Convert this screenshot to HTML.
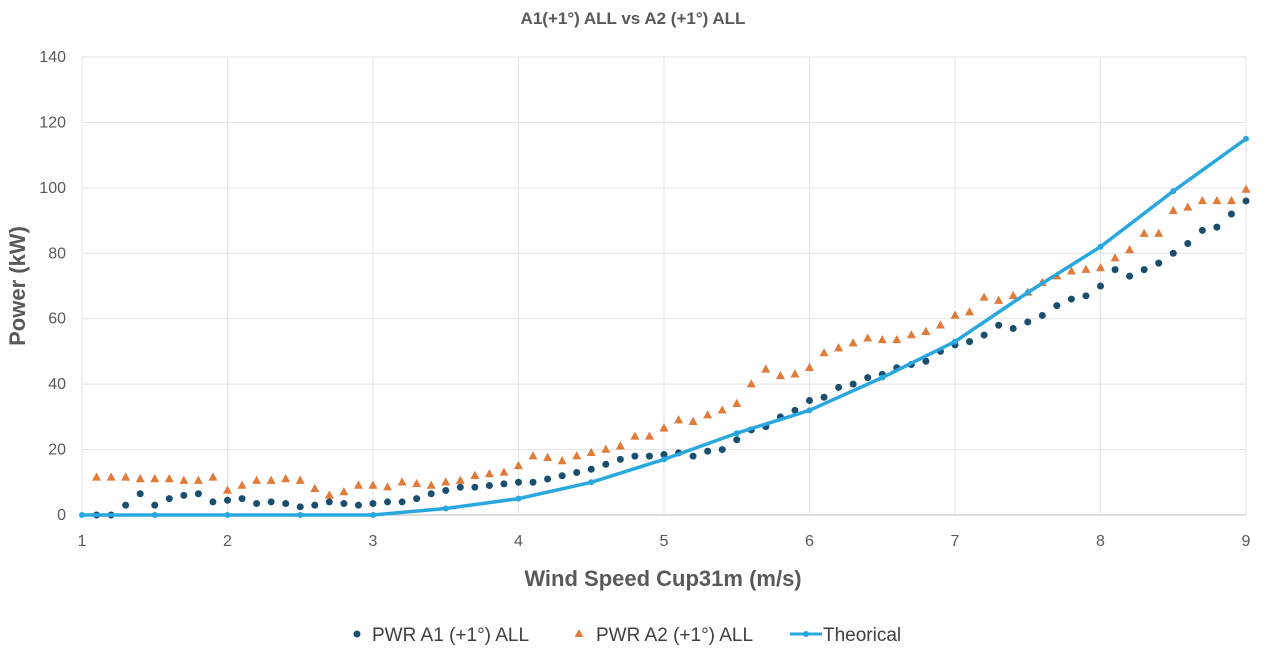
<!DOCTYPE html>
<html><head><meta charset="utf-8"><style>
body{margin:0;background:#fff;font-family:"Liberation Sans",sans-serif;}
</style></head><body>
<svg width="1266" height="656" xmlns="http://www.w3.org/2000/svg" id="svg">
<rect width="1266" height="656" fill="#fff"/>
<text x="633" y="24" text-anchor="middle" font-size="17" font-weight="bold" fill="#595959">A1(+1°) ALL vs A2 (+1°) ALL</text>
<g id="grid"></g><g id="marks"></g>
<text x="663" y="586" text-anchor="middle" font-size="22" font-weight="bold" fill="#595959">Wind Speed Cup31m (m/s)</text>
<text transform="translate(25,286) rotate(-90)" text-anchor="middle" font-size="22" font-weight="bold" fill="#595959">Power (kW)</text>
<g font-size="19" fill="#404040">
<g><circle cx="357" cy="634" r="3.5" fill="#1a4e6e"/><text x="372" y="641">PWR A1 (+1°) ALL</text></g>
<g><polygon points="579,629 583.5,637 574.5,637" fill="#e07b39"/><text x="596" y="641">PWR A2 (+1°)  ALL</text></g>
<g><line x1="790" y1="634" x2="822" y2="634" stroke="#29a8e0" stroke-width="3"/><circle cx="806" cy="634" r="3" fill="#29a8e0"/><text x="823" y="641">Theorical</text></g>
</g>
</svg>
<script>
const xTicks=[1,2,3,4,5,6,7,8,9];
const yTicks=[0,20,40,60,80,100,120,140];
const a1X=[1.1,1.2,1.3,1.4,1.5,1.6,1.7,1.8,1.9,2.0,2.1,2.2,2.3,2.4,2.5,2.6,2.7,2.8,2.9,3.0,3.1,3.2,3.3,3.4,3.5,3.6,3.7,3.8,3.9,4.0,4.1,4.2,4.3,4.4,4.5,4.6,4.7,4.8,4.9,5.0,5.1,5.2,5.3,5.4,5.5,5.6,5.7,5.8,5.9,6.0,6.1,6.2,6.3,6.4,6.5,6.6,6.7,6.8,6.9,7.0,7.1,7.2,7.3,7.4,7.5,7.6,7.7,7.8,7.9,8.0,8.1,8.2,8.3,8.4,8.5,8.6,8.7,8.8,8.9,9.0];
const a1Y=[0,0,3,6.5,3,5,6,6.5,4,4.5,5,3.5,4,3.5,2.5,3,4,3.5,3,3.5,4,4,5,6.5,7.5,8.5,8.5,9,9.5,10,10,11,12,13,14,15.5,17,18,18,18.5,19,18,19.5,20,23,26,27,30,32,35,36,39,40,42,43,45,46,47,50,52,53,55,58,57,59,61,64,66,67,70,75,73,75,77,80,83,87,88,92,96];
const a2Y=[11.5,11.5,11.5,11,11,11,10.5,10.5,11.5,7.5,9,10.5,10.5,11,10.5,8,6,7,9,9,8.5,10,9.5,9,10,10.5,12,12.5,13,15,18,17.5,16.5,18,19,20,21,24,24,26.5,29,28.5,30.5,32,34,40,44.5,42.5,43,45,49.5,51,52.5,54,53.5,53.5,55,56,58,61,62,66.5,65.5,67,68,71,73,74.5,75,75.5,78.5,81,86,86,93,94,96,96,96,99.5];
const thX=[1,1.5,2,2.5,3,3.5,4,4.5,5,5.5,6,6.5,7,7.5,8,8.5,9];
const thY=[0,0,0,0,0,2,5,10,17,25,32,42,53,68,82,99,115];
const NS="http://www.w3.org/2000/svg";
const sx=v=>82+(v-1)*145.5, sy=v=>515-v*458/140;
function mk(t,a,p){const e=document.createElementNS(NS,t);for(const k in a)e.setAttribute(k,a[k]);p.appendChild(e);return e;}
const g=document.getElementById('grid'),m=document.getElementById('marks');
yTicks.forEach(v=>{
 const l=mk('line',{x1:82,x2:1246,y1:sy(v),y2:sy(v),stroke:v===0?'#bfbfbf':'#e3e3e3','stroke-width':1},g);
 
 
 const t=mk('text',{x:66,y:sy(v)+5,'text-anchor':'end','font-size':16,fill:'#595959'},g);t.textContent=v;
 
 
});
xTicks.forEach(v=>{
 const l=mk('line',{x1:sx(v),x2:sx(v),y1:57,y2:515,stroke:'#e3e3e3','stroke-width':1},g);
 
 
 const t=mk('text',{x:sx(v),y:546,'text-anchor':'middle','font-size':16,fill:'#595959'},g);t.textContent=v;
 
 
});
a1X.forEach((x,i)=>{
 const c=mk('circle',{cx:sx(x),cy:sy(a1Y[i]),r:3.5,fill:'#1a4e6e'},m);
 
 
 const X=sx(x),Y=sy(a2Y[i]);
 const p=mk('polygon',{points:`${X},${Y-5} ${X+4.5},${Y+3.2} ${X-4.5},${Y+3.2}`,fill:'#e07b39'},m);
 
 
});
const pl=mk('polyline',{points:thX.map((x,i)=>sx(x)+','+sy(thY[i])).join(' '),fill:'none',stroke:'#29a8e0','stroke-width':3.5,'stroke-linejoin':'round'},m);


thX.forEach((x,i)=>{
 const c=mk('circle',{cx:sx(x),cy:sy(thY[i]),r:3,fill:'#29a8e0'},m);
 
 
});
</script>
</body></html>
